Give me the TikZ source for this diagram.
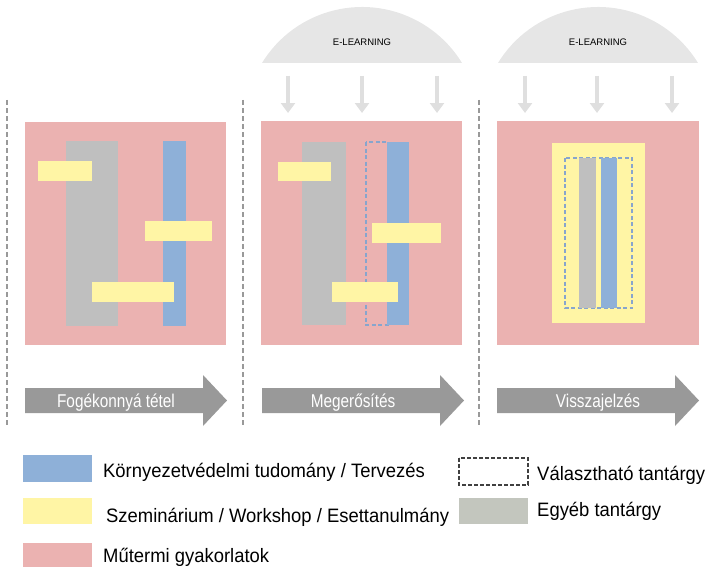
\documentclass[tikz,border=0pt]{standalone}
\usepackage{fontspec}
\setmainfont{Liberation Sans}
\newfontfamily\narrowsans{Liberation Sans}[FakeStretch=0.83]
\newfontfamily\legsans{Liberation Sans}[FakeStretch=0.95]
\usetikzlibrary{arrows.meta, positioning}
\definecolor{studiopink}{RGB}{235,178,177}
\definecolor{envblue}{RGB}{142,176,216}
\definecolor{seminaryellow}{RGB}{255,245,165}
\definecolor{othergrey}{RGB}{191,191,191}
\definecolor{leggrey}{RGB}{195,198,190}
\definecolor{elearngrey}{RGB}{230,230,230}
\definecolor{phasegrey}{RGB}{153,153,153}
\definecolor{optblue}{RGB}{135,165,205}
\tikzset{studio/.style = {fill = studiopink},
         envbar/.style = {fill = envblue},
         seminar/.style = {fill = seminaryellow},
         otherbar/.style = {fill = othergrey},
         optional/.style = {draw = optblue, line width = 1.4pt,
                            dash pattern = on 4pt off 2.5pt},
         divider/.style = {draw = gray!80, line width = 1.3pt,
                           dash pattern = on 5pt off 3pt},
         elearn/.style = {fill = elearngrey},
         elarrow/.style = {draw = gray!25, line width = 4pt,
                           -{Triangle[width = 14pt, length = 10pt]}},
         phase/.style = {fill = phasegrey},
         phasetext/.style = {text = white, anchor = base, inner sep = 0pt,
                             font = \narrowsans\fontsize{18.5}{20}\selectfont},
         eltext/.style = {anchor = base, inner sep = 0pt,
                          font = \fontsize{9.5}{11}\selectfont},
         legtext/.style = {anchor = base west, inner sep = 0pt,
                           font = \legsans\fontsize{19.4}{21}\selectfont}}

\begin{document}
\begin{tikzpicture}[x = 1pt, y = -1pt]
    \useasboundingbox (0,0) rectangle (708,567);

    % dividers
    \foreach \x in {7, 243, 479}
        \draw[divider] (\x,100) -- (\x,425);

    % e-learning caps
    \fill[elearn] (262,63) arc[start angle = 148.5, end angle = 31.5, radius = 117.3pt] -- cycle;
    \fill[elearn] (498,63) arc[start angle = 148.5, end angle = 31.5, radius = 117.3pt] -- cycle;
    \node[eltext] (el2) at (362,45.5) {E-LEARNING};
    \node[eltext] (el3) at (598,45.5) {E-LEARNING};
    \foreach \x in {288, 362, 437, 525, 597, 672}
        \draw[elarrow] (\x,76) -- (\x,113);

    % panel 1
    \fill[studio]   (25,122)  rectangle (226,345);
    \fill[otherbar] (66,141)  rectangle (118,326);
    \fill[envbar]   (163,141) rectangle (186,326);
    \fill[seminar]  (38,161)  rectangle (92,181);
    \fill[seminar]  (145,221) rectangle (212,241);
    \fill[seminar]  (92,282)  rectangle (174,302);

    % panel 2
    \fill[studio]   (261,121) rectangle (462,345);
    \fill[otherbar] (302,142) rectangle (346,325);
    \draw[optional] (366,142) rectangle (388,325);
    \fill[envbar]   (387,142) rectangle (409,325);
    \fill[seminar]  (278,162) rectangle (331,181);
    \fill[seminar]  (372,223) rectangle (441,243);
    \fill[seminar]  (332,282) rectangle (398,302);

    % panel 3
    \fill[studio]   (497,121) rectangle (699,345);
    \fill[seminar]  (552,143) rectangle (645,323);
    \draw[optional] (565,158) rectangle (632,308);
    \fill[otherbar] (579,158) rectangle (596,308);
    \fill[envbar]   (601,158) rectangle (617,308);

    % phases
    \foreach \x/\tx/\name/\txt in {25/116/fog/Fogékonnyá tétel,
                                   262/353/meg/Megerősítés,
                                   497/598/vissza/Visszajelzés} {
        \fill[phase] (\x,388) -- (\x+178,388) -- (\x+178,375) -- (\x+202,400.5)
                     -- (\x+178,426) -- (\x+178,413) -- (\x,413) -- cycle;
        \node[phasetext] (\name) at (\tx,407.5) {\txt};
    }

    % legend
    \fill[envbar]  (23,455) rectangle (92,482);
    \fill[seminar] (23,498) rectangle (92,524);
    \fill[studio]  (23,543) rectangle (92,567);
    \draw[draw = black!75, line width = 1.3pt, dash pattern = on 4pt off 2pt]
                   (459,458) rectangle (528,485);
    \fill[leggrey] (459,498) rectangle (528,524);
    \node[legtext] (legenv)   at (103,477) {Környezetvédelmi tudomány / Tervezés};
    \node[legtext] (legsem)   at (106,522) {Szeminárium / Workshop / Esettanulmány};
    \node[legtext] (legstud)  at (103,562) {Műtermi gyakorlatok};
    \node[legtext] (legopt)   at (537,480) {Választható tantárgy};
    \node[legtext] (legother) at (537,516) {Egyéb tantárgy};
\end{tikzpicture}
\end{document}
